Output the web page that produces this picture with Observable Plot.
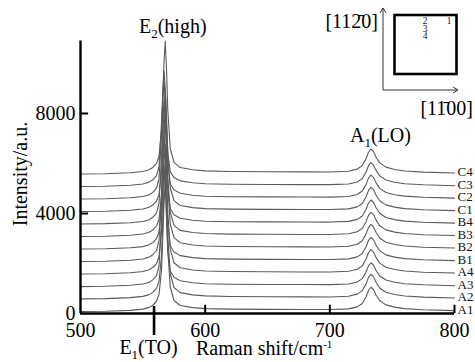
<!DOCTYPE html>
<html><head><meta charset="utf-8">
<script src="https://cdn.jsdelivr.net/npm/d3@7"></script>
<script src="https://cdn.jsdelivr.net/npm/@observablehq/plot@0.6"></script>
<style>
html,body{margin:0;padding:0;background:#fff}
#chart{width:475px;height:362px}
</style></head><body><div id="chart"></div>
<script>
// Raman shift grid (cm^-1)
const shift = [500,520,540,550,555,558,561,563,565,566,567,568,569,570,572,575,580,590,600,620,650,680,700,715,722,726,729,731,733,735,737,740,745,752,760,775,800];
const samples = ["A1","A2","A3","A4","B1","B2","B3","B4","C1","C2","C3","C4"];
const offsets = [0,500,1000,1500,2000,2500,3000,3500,4000,4500,5000,5500];
// raw intensities (a.u.) per sample
const A1 = [80,90,125,175,245,330,490,770,1750,3050,4420,5200,4120,2550,1060,520,320,235,195,175,165,160,158,185,265,400,660,920,1050,960,740,510,345,255,195,150,115];
const A2 = [85,95,135,185,255,345,505,790,1820,3150,4560,5350,4230,2620,1090,540,335,245,205,180,172,165,162,192,275,415,680,945,1070,975,755,520,350,260,200,155,120];
const A3 = [75,88,128,178,250,345,510,900,2800,4100,5000,4250,2750,1500,700,450,310,230,190,170,162,158,155,182,262,395,650,905,1030,940,730,500,340,250,192,148,112];
const A4 = [82,92,130,182,252,340,498,780,1790,3100,4500,5250,4160,2580,1075,530,328,240,200,178,168,162,160,188,268,405,668,930,1055,965,748,515,348,258,198,152,118];
const B1 = [80,93,132,180,255,350,520,920,2850,4180,5100,4330,2800,1530,710,460,315,235,195,175,166,160,158,186,266,402,662,922,1045,955,742,512,346,256,196,151,116];
const B2 = [78,90,127,176,248,336,495,775,1800,3120,4520,5300,4190,2600,1080,535,330,242,202,178,170,164,161,190,272,410,675,938,1062,970,752,518,350,258,199,153,119];
const B3 = [80,92,128,178,250,338,500,778,1760,3060,4430,5150,4080,2530,1055,525,325,238,198,176,167,161,159,187,267,404,664,925,1048,958,745,512,346,256,197,151,117];
const B4 = [82,94,131,181,253,348,515,905,2780,4080,5000,4250,2740,1490,695,452,312,232,193,173,165,159,157,184,264,400,658,918,1040,950,738,508,343,254,195,150,115];
const C1 = [80,91,128,177,249,337,496,765,1700,2950,4250,4900,3900,2430,1020,515,320,236,196,175,166,160,158,186,266,402,662,922,1045,955,742,512,346,256,196,151,116];
const C2 = [80,92,130,180,252,346,512,890,2700,3950,4800,4080,2640,1440,680,445,308,230,192,172,164,158,156,183,263,398,655,915,1038,948,736,506,342,253,194,149,114];
const C3 = [80,93,131,181,254,348,515,880,2650,3880,4700,4000,2590,1420,675,442,306,229,191,171,163,157,155,182,262,396,652,912,1035,945,734,504,341,252,193,148,113];
const C4 = [80,92,130,180,252,342,505,790,1830,3170,4600,5400,4270,2650,1100,545,338,247,206,182,173,166,163,193,276,418,685,950,1080,985,762,525,354,262,202,156,120];
const spectra = [A1,A2,A3,A4,B1,B2,B3,B4,C1,C2,C3,C4];
const xTicks = [500,600,700,800];
const yTicks = [0,4000,8000];
const e1TO = 559, e2High = 568, a1LO = 733;

const rows = [];
samples.forEach((s,i) => spectra[i].forEach((v,j) => rows.push({sample:s, shift:shift[j], intensity:v + offsets[i]})));
const ends = samples.map((s,i) => ({sample:s, shift:shift[shift.length-1], intensity:spectra[i][spectra[i].length-1] + offsets[i]}));

const serif = "'Liberation Serif','Times New Roman',serif";
const plot = Plot.plot({
  width:475, height:362,
  marginLeft:80, marginRight:21, marginTop:40.5, marginBottom:49,
  style:{fontFamily:serif, background:"#fff", overflow:"visible", color:"#000"},
  x:{domain:[500,800]},
  y:{domain:[0,10900]},
  marks:[
    Plot.line(rows,{x:"shift", y:"intensity", z:"sample", stroke:"#5a5a5a", strokeWidth:1.1}),
    Plot.ruleX([500],{y1:0, y2:10900, stroke:"#000", strokeWidth:2.4}),
    Plot.ruleY([0],{stroke:"#000", strokeWidth:2.4}),
    // inward ticks
    Plot.ruleY(yTicks.filter(d => d > 0),{x1:500, x2:506.5, stroke:"#000", strokeWidth:2}),
    Plot.ruleX(xTicks.filter(d => d > 500),{y1:0, y2:330, stroke:"#000", strokeWidth:2}),
    Plot.axisY({ticks:yTicks, tickSize:0, tickPadding:5, fontSize:20, label:null, tickFormat:d3.format("d")}),
    Plot.axisX({ticks:xTicks, tickSize:0, tickPadding:9, fontSize:20, label:null, tickFormat:d3.format("d")}),
    Plot.ruleX([e1TO],{y1:-880, y2:280, stroke:"#000", strokeWidth:2.6}),
    Plot.text(ends,{x:"shift", y:"intensity", text:"sample", textAnchor:"start", dx:3, dy:-1, fontSize:13, fill:"#111"})
  ]
});
document.getElementById("chart").appendChild(plot);

const X = plot.scale("x"), Y = plot.scale("y");
const svg = d3.select(plot);
const g = svg.append("g").attr("font-family", serif).attr("fill", "#000");

function rich(x, y, parts, anchor="start", rotate=null) {
  const t = g.append("text").attr("x", x).attr("y", y).attr("text-anchor", anchor).attr("font-size", 20);
  if (rotate !== null) t.attr("transform", `rotate(${rotate},${x},${y})`);
  let shiftNow = 0;
  parts.forEach(([txt, kind]) => {
    const sp = t.append("tspan").text(txt);
    let target = 0;
    if (kind === "sub") { sp.attr("font-size", 13); target = 5; }
    else if (kind === "sup") { sp.attr("font-size", 11); target = -7; }
    sp.attr("dy", target - shiftNow);
    shiftNow = target;
  });
  return t;
}

// peak annotations
rich(X.apply(e2High) + 8, 33, [["E"],["2","sub"],["(high)"]], "middle");
rich(X.apply(a1LO) + 10, 142, [["A"],["1","sub"],["(LO)"]], "middle");
rich(X.apply(e1TO) - 5, 354, [["E"],["1","sub"],["(TO)"]], "middle");
// axis titles
rich(196, 355, [["Raman shift/cm"],["-1","sup"]], "start");
rich(27, 174, [["Intensity/a.u."]], "middle", -90);

// inset: crystal directions and sample positions
const ax0 = 383, ay0 = 90;
g.append("path").attr("d", `M${ax0},${ay0}V8M${ax0-3},13L${ax0},8L${ax0+3},13`).attr("fill","none").attr("stroke","#333").attr("stroke-width",1);
g.append("path").attr("d", `M${ax0},${ay0}H458M453,${ay0-3}L458,${ay0}L453,${ay0+3}`).attr("fill","none").attr("stroke","#333").attr("stroke-width",1);
g.append("rect").attr("x",394.5).attr("y",15).attr("width",62).attr("height",59).attr("fill","none").attr("stroke","#000").attr("stroke-width",2.6);
[["2",425,24],["3",425,31.5],["4",425,39],["1",449,24]].forEach(([s,x,y]) =>
  g.append("text").attr("x",x).attr("y",y).attr("text-anchor","middle").attr("font-size",9.5).attr("fill","#222").text(s));
rich(378, 28, [["[112\u03040]"]], "end");
rich(473, 115, [["[11\u030400]"]], "end");
</script>
</body></html>
